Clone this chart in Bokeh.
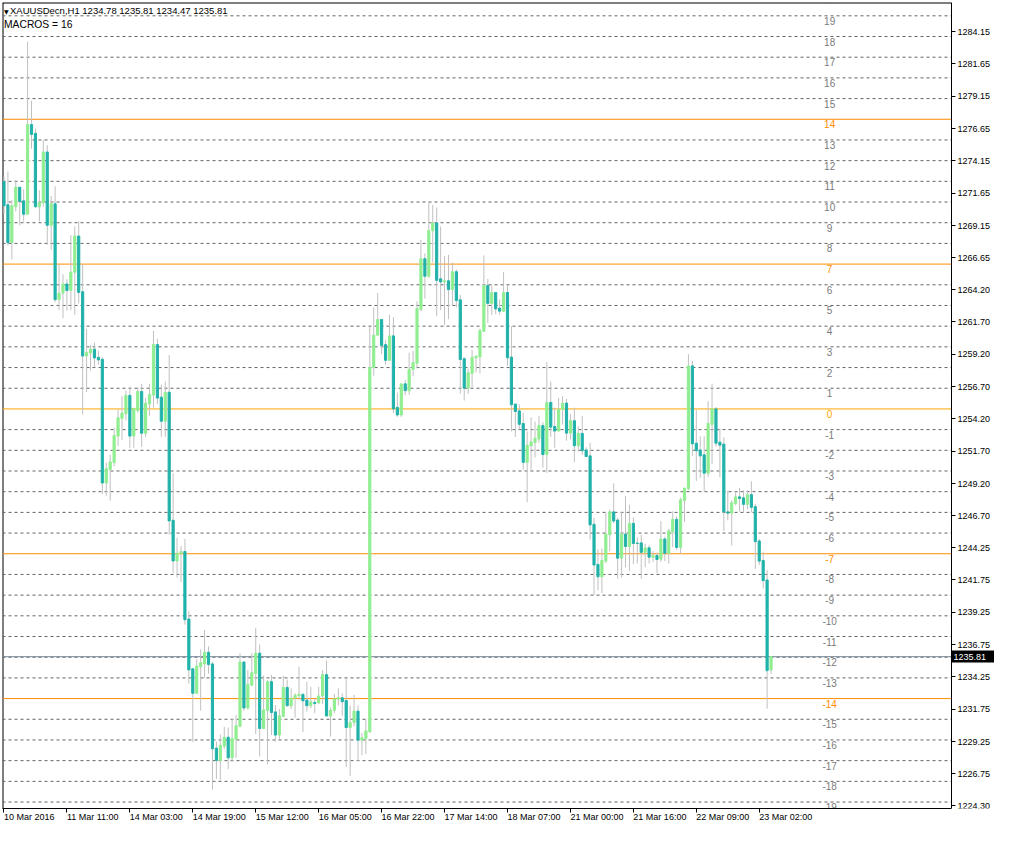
from bokeh.plotting import figure
from bokeh.models import (ColumnDataSource, FixedTicker, PrintfTickFormatter, Label,
                          LinearAxis)
from bokeh.core.properties import value
from bokeh.embed import file_html
from bokeh.resources import INLINE

symbol_title = "XAUUSDecn,H1  1234.78 1235.81 1234.47 1235.81"
indicator_title = "MACROS = 16"

opens = [1272.55, 1270.76, 1267.83, 1270.61, 1272.12, 1271.06, 1270.03, 1276.96, 1276.28, 1270.61,
         1270.91, 1274.84, 1269.17, 1270.83, 1263.42, 1263.93, 1264.63, 1264.13, 1265.54, 1268.34,
         1264.03, 1259.06, 1259.29, 1259.59, 1258.96, 1258.81, 1249.24, 1250.30, 1250.82, 1252.87,
         1254.23, 1254.60, 1256.02, 1252.87, 1254.86, 1256.32, 1253.09, 1255.36, 1256.04, 1259.95,
         1255.88, 1254.02, 1256.26, 1246.36, 1243.21, 1243.81, 1243.94, 1238.72, 1234.87, 1232.98,
         1235.04, 1235.25, 1236.15, 1235.25, 1228.74, 1227.79, 1228.90, 1229.58, 1227.99, 1229.42,
         1230.43, 1235.40, 1231.84, 1233.61, 1234.51, 1236.08, 1230.26, 1231.64, 1233.88, 1231.54,
         1229.75, 1231.19, 1233.43, 1232.02, 1232.60, 1232.78, 1232.90, 1232.45, 1232.02, 1232.27,
         1232.24, 1232.77, 1234.42, 1231.22, 1231.66, 1232.54, 1232.63, 1232.42, 1230.33, 1230.72,
         1231.60, 1229.36, 1229.48, 1230.01, 1258.18, 1260.67, 1261.88, 1259.94, 1258.73, 1260.62,
         1255.09, 1254.50, 1256.91, 1256.38, 1258.03, 1258.50, 1262.67, 1266.58, 1265.23, 1268.76,
         1269.35, 1265.03, 1264.79, 1264.88, 1264.20, 1265.58, 1263.41, 1258.85, 1256.58, 1257.72,
         1258.93, 1259.00, 1260.97, 1264.52, 1263.13, 1263.97, 1262.76, 1262.53, 1263.97, 1258.98,
         1255.35, 1254.82, 1253.84, 1250.84, 1252.12, 1252.37, 1252.65, 1253.68, 1251.44, 1255.47,
         1253.61, 1253.26, 1254.94, 1255.42, 1253.10, 1254.06, 1252.12, 1253.08, 1251.79, 1251.34,
         1246.05, 1242.95, 1241.99, 1243.20, 1245.24, 1247.01, 1246.38, 1243.43, 1245.29, 1244.33,
         1246.12, 1244.59, 1244.61, 1243.88, 1244.23, 1243.50, 1243.63, 1243.35, 1244.91, 1243.81,
         1245.47, 1246.43, 1244.26, 1247.89, 1248.80, 1258.30, 1252.32, 1251.79, 1251.42, 1250.00,
         1253.78, 1254.97, 1252.40, 1252.25, 1247.01, 1246.91, 1247.66, 1248.17, 1248.09, 1247.59,
         1248.34, 1247.41, 1244.76, 1243.25, 1241.74, 1234.78]
highs = [1272.95, 1273.33, 1271.14, 1272.65, 1272.12, 1271.94, 1283.38, 1278.80, 1276.65, 1271.89,
         1275.75, 1275.37, 1271.44, 1272.19, 1266.10, 1265.39, 1265.01, 1268.41, 1269.09, 1269.47,
         1266.15, 1261.16, 1259.90, 1260.10, 1259.49, 1258.96, 1250.82, 1251.43, 1253.50, 1254.93,
         1255.97, 1256.39, 1256.70, 1255.06, 1256.65, 1256.92, 1255.81, 1256.92, 1261.01, 1260.40,
         1256.84, 1257.09, 1259.14, 1249.99, 1245.00, 1244.37, 1244.92, 1239.33, 1234.87, 1235.62,
         1236.38, 1237.89, 1236.61, 1235.42, 1229.25, 1229.80, 1230.38, 1230.33, 1231.01, 1231.31,
         1236.08, 1235.40, 1234.79, 1236.08, 1238.04, 1236.76, 1234.34, 1233.99, 1234.41, 1232.07,
         1231.77, 1234.34, 1234.04, 1233.36, 1232.98, 1235.04, 1232.98, 1233.88, 1233.48, 1232.57,
         1233.48, 1234.77, 1235.51, 1231.89, 1232.92, 1233.36, 1232.98, 1234.10, 1232.04, 1232.86,
         1232.04, 1229.92, 1231.01, 1261.35, 1262.82, 1263.94, 1261.88, 1260.29, 1262.26, 1262.06,
         1256.24, 1256.91, 1257.21, 1259.32, 1259.47, 1263.29, 1268.05, 1267.00, 1270.91, 1270.73,
         1270.55, 1269.08, 1266.79, 1266.88, 1266.29, 1265.76, 1263.79, 1258.98, 1258.09, 1259.53,
         1259.10, 1261.19, 1266.84, 1265.02, 1264.52, 1264.02, 1263.44, 1265.55, 1264.52, 1261.37,
         1255.35, 1255.32, 1254.69, 1253.23, 1254.31, 1253.99, 1254.44, 1253.94, 1258.60, 1257.09,
         1255.07, 1255.83, 1255.95, 1255.75, 1254.57, 1255.07, 1253.61, 1254.44, 1252.00, 1252.35,
         1246.55, 1244.11, 1244.16, 1247.01, 1247.18, 1249.22, 1246.55, 1247.01, 1248.24, 1247.56,
         1246.58, 1245.04, 1245.24, 1244.54, 1244.44, 1243.98, 1243.86, 1246.30, 1245.09, 1245.70,
         1247.06, 1246.68, 1248.11, 1248.85, 1259.20, 1258.67, 1254.89, 1252.85, 1252.85, 1255.57,
         1256.93, 1255.12, 1253.46, 1252.78, 1248.64, 1247.91, 1248.59, 1248.87, 1248.69, 1248.69,
         1249.37, 1247.64, 1244.91, 1243.93, 1242.50, 1235.81]
lows = [1270.05, 1267.61, 1266.52, 1270.25, 1269.17, 1269.47, 1270.03, 1275.09, 1270.51, 1269.47,
        1270.61, 1267.66, 1267.28, 1263.22, 1262.62, 1261.99, 1262.57, 1262.62, 1262.24, 1263.12,
        1254.53, 1256.27, 1257.93, 1258.18, 1258.38, 1248.38, 1248.25, 1247.88, 1250.52, 1252.11,
        1252.56, 1254.08, 1251.96, 1251.96, 1254.68, 1252.03, 1252.79, 1254.45, 1255.06, 1255.36,
        1252.81, 1252.81, 1245.25, 1242.28, 1241.92, 1241.60, 1238.29, 1233.73, 1229.20, 1232.98,
        1231.64, 1234.16, 1234.49, 1225.54, 1226.35, 1226.27, 1228.69, 1227.11, 1227.69, 1227.99,
        1230.36, 1231.64, 1231.72, 1233.53, 1229.83, 1228.09, 1230.21, 1227.48, 1229.75, 1229.25,
        1229.45, 1231.14, 1231.94, 1231.77, 1231.09, 1232.47, 1229.98, 1231.57, 1231.84, 1231.45,
        1232.13, 1232.13, 1231.22, 1229.63, 1231.45, 1232.04, 1231.25, 1227.28, 1226.60, 1230.42,
        1227.72, 1228.19, 1228.28, 1229.92, 1257.53, 1260.67, 1259.23, 1258.38, 1258.65, 1254.65,
        1254.35, 1254.35, 1256.03, 1256.06, 1257.50, 1258.12, 1262.53, 1263.50, 1265.11, 1266.29,
        1262.14, 1262.61, 1261.47, 1261.91, 1262.91, 1262.82, 1256.15, 1255.62, 1256.13, 1256.63,
        1257.79, 1257.72, 1260.97, 1261.62, 1262.25, 1262.30, 1262.25, 1262.48, 1258.30, 1253.23,
        1252.80, 1253.38, 1250.28, 1247.74, 1250.08, 1251.21, 1252.35, 1250.43, 1250.03, 1252.80,
        1251.97, 1253.23, 1253.76, 1252.52, 1252.60, 1250.84, 1251.67, 1251.42, 1251.24, 1244.86,
        1240.58, 1240.93, 1240.73, 1243.05, 1243.96, 1246.12, 1241.84, 1241.92, 1242.72, 1242.42,
        1242.97, 1243.02, 1241.84, 1242.72, 1243.02, 1243.13, 1242.27, 1243.15, 1243.20, 1243.02,
        1244.28, 1244.08, 1243.78, 1246.22, 1248.72, 1251.34, 1249.40, 1249.63, 1248.57, 1249.70,
        1250.71, 1252.05, 1249.70, 1245.54, 1246.35, 1244.41, 1247.51, 1247.03, 1247.01, 1247.21,
        1246.96, 1242.60, 1242.90, 1241.08, 1231.79, 1234.47]
closes = [1270.68, 1267.83, 1270.68, 1272.12, 1271.01, 1270.03, 1276.96, 1276.20, 1270.61, 1270.91,
          1274.84, 1269.17, 1270.83, 1263.42, 1263.93, 1264.63, 1264.13, 1265.54, 1268.34, 1263.98,
          1259.06, 1259.34, 1259.59, 1258.91, 1258.76, 1249.24, 1250.35, 1250.87, 1252.92, 1254.28,
          1254.65, 1256.02, 1252.87, 1255.01, 1256.32, 1253.09, 1255.41, 1256.09, 1259.95, 1255.81,
          1254.02, 1256.26, 1246.31, 1243.21, 1243.81, 1243.94, 1238.67, 1234.79, 1232.98, 1235.09,
          1235.35, 1236.15, 1235.20, 1228.69, 1227.79, 1228.95, 1229.58, 1227.99, 1229.47, 1230.48,
          1235.40, 1231.84, 1233.68, 1234.57, 1236.08, 1230.26, 1231.69, 1233.88, 1231.49, 1229.75,
          1231.24, 1233.43, 1232.02, 1232.60, 1232.83, 1232.90, 1232.40, 1232.02, 1232.32, 1232.19,
          1232.77, 1234.42, 1231.22, 1231.66, 1232.54, 1232.63, 1232.33, 1230.33, 1230.72, 1231.60,
          1229.36, 1229.54, 1230.07, 1258.18, 1260.67, 1261.88, 1259.88, 1258.73, 1260.62, 1254.97,
          1254.50, 1256.91, 1256.38, 1258.03, 1258.56, 1262.73, 1266.58, 1265.23, 1268.76, 1269.35,
          1264.91, 1264.79, 1264.88, 1264.20, 1265.58, 1263.35, 1258.79, 1256.58, 1257.77, 1258.95,
          1259.05, 1261.02, 1264.52, 1263.13, 1263.97, 1262.71, 1262.53, 1263.97, 1258.93, 1255.30,
          1254.77, 1253.78, 1250.84, 1252.17, 1252.42, 1252.70, 1253.68, 1251.44, 1255.47, 1253.56,
          1253.26, 1254.94, 1255.42, 1253.10, 1254.06, 1252.12, 1253.08, 1251.74, 1251.29, 1246.00,
          1242.90, 1241.99, 1243.25, 1245.29, 1247.01, 1246.30, 1243.43, 1245.29, 1244.33, 1246.12,
          1244.56, 1244.56, 1243.88, 1244.23, 1243.50, 1243.63, 1243.33, 1244.91, 1243.81, 1245.54,
          1246.43, 1244.26, 1247.94, 1248.85, 1258.30, 1252.27, 1251.74, 1251.34, 1250.00, 1253.84,
          1254.97, 1252.32, 1252.17, 1247.01, 1246.91, 1247.71, 1248.17, 1248.04, 1247.59, 1248.34,
          1247.36, 1244.71, 1243.20, 1241.69, 1234.73, 1235.81]

time_tick_bars = [0, 16, 32, 48, 64, 80, 96, 112, 128, 144, 160, 176, 192]
time_tick_labels = ["10 Mar 2016", "11 Mar 11:00", "14 Mar 03:00", "14 Mar 19:00", "15 Mar 12:00",
                    "16 Mar 05:00", "16 Mar 22:00", "17 Mar 14:00", "18 Mar 07:00", "21 Mar 00:00",
                    "21 Mar 16:00", "22 Mar 09:00", "23 Mar 02:00"]
price_ticks = [1284.15, 1281.65, 1279.15, 1276.65, 1274.15, 1271.65, 1269.15, 1266.65, 1264.20,
               1261.70, 1259.20, 1256.70, 1254.20, 1251.70, 1249.20, 1246.70, 1244.25, 1241.75,
               1239.25, 1236.75, 1234.25, 1231.75, 1229.25, 1226.75, 1224.30]
level_numbers = list(range(-19, 21))
level_prices = [1224.57, 1226.17, 1227.77, 1229.37, 1230.97, 1232.57, 1234.17, 1235.77, 1237.37,
                1238.97, 1240.57, 1242.17, 1243.77, 1245.37, 1246.97, 1248.57, 1250.17, 1251.77,
                1253.37, 1254.97, 1256.57, 1258.17, 1259.77, 1261.37, 1262.97, 1264.57, 1266.17,
                1267.77, 1269.37, 1270.97, 1272.57, 1274.17, 1275.77, 1277.37, 1278.97, 1280.57,
                1282.17, 1283.77, 1285.37, 1286.97]
key_levels = [-14, -7, 0, 7, 14]
bid_price = 1235.81

# ---- styling / layout ----
BULL = "#90EE90"
BEAR = "#20B2AA"
WICK = "#C0C0C0"
DASH = "#646464"
ORANGE = "#FF8C00"
ORANGE0 = "#FFA500"
LABEL_GRAY = "#7A7A7A"
FONT = "Liberation Sans"

FRAME_W = 992          # drawing area incl. the price-scale strip
FRAME_H = 806
SCALE_W = 43           # width of the price-scale strip on the right

x_start, chart_right = -0.375, 240.875
y_start, y_end = 1224.07, 1286.40
x_end = x_start + (chart_right - x_start) * FRAME_W / (FRAME_W - SCALE_W)

p = figure(frame_width=FRAME_W, frame_height=FRAME_H,
           x_range=(x_start, x_end), y_range=(y_start, y_end),
           y_axis_location="right", output_backend="svg", toolbar_location=None, tools="",
           min_border_left=2, min_border_top=2, min_border_right=0, min_border_bottom=0)
p.background_fill_color = "white"
p.border_fill_color = "white"
p.outline_line_color = None
p.grid.visible = False

# chart border (left / top); right and bottom come from the axes
p.segment(x0=[x_start, x_start], y0=[y_start, y_end], x1=[x_start, chart_right],
          y1=[y_end, y_end], line_color="black", line_width=2)

# level lines
dash_lv = [lv for k, lv in zip(level_numbers, level_prices) if k not in key_levels]
key_lv = [lv for k, lv in zip(level_numbers, level_prices) if k in key_levels]
key_col = [ORANGE0 if k == 0 else ORANGE for k in level_numbers if k in key_levels]
p.segment(x0=x_start, x1=chart_right, y0=dash_lv, y1=dash_lv, line_color=DASH,
          line_width=1, line_dash="3 3")
p.segment(x0=x_start, x1=chart_right, y0=key_lv, y1=key_lv, line_color=key_col, line_width=1)
p.segment(x0=x_start, x1=chart_right, y0=bid_price, y1=bid_price, line_color="#778899",
          line_width=1)

lab_colors = [(ORANGE0 if k == 0 else ORANGE) if k in key_levels else LABEL_GRAY
              for k in level_numbers]
lsrc = ColumnDataSource(dict(x=[209.9] * len(level_prices), y=level_prices,
                             t=[str(k) for k in level_numbers], c=lab_colors))
p.text(x="x", y="y", text="t", text_color="c", source=lsrc, text_align="center",
       text_baseline="top", y_offset=1, text_font=value(FONT), text_font_size="10px")

# candles
bars = list(range(len(opens)))
src = ColumnDataSource(dict(
    x=bars, o=opens, h=highs, l=lows, c=closes,
    top=[max(a, b) for a, b in zip(opens, closes)],
    bottom=[min(a, b) for a, b in zip(opens, closes)],
    col=[BULL if c >= o else BEAR for o, c in zip(opens, closes)],
))
p.segment(x0="x", y0="h", x1="x", y1="l", line_color=WICK, line_width=1, source=src)
p.vbar(x="x", width=0.55, top="top", bottom="bottom", fill_color="col", line_color="col",
       line_width=1, source=src)

# time axis (labels start at their tick, as in the terminal)
xa = p.xaxis[0]
xa.ticker = FixedTicker(ticks=time_tick_bars)
xa.bounds = (x_start, chart_right)
xa.major_label_overrides = {b: t for b, t in zip(time_tick_bars, time_tick_labels)}
xa.major_label_orientation = -0.0001
xa.major_label_text_font = FONT
xa.major_label_text_font_size = "9px"
xa.major_label_text_color = "black"
xa.major_label_standoff = 4
xa.axis_line_color = "black"
xa.major_tick_line_color = "black"
xa.major_tick_in = 0
xa.major_tick_out = 4
xa.minor_tick_line_color = None

# price axis, drawn at the chart's right border
ya = p.yaxis[0]
ya.fixed_location = chart_right
ya.ticker = FixedTicker(ticks=price_ticks)
ya.formatter = PrintfTickFormatter(format="%.2f")
ya.major_label_text_font = FONT
ya.major_label_text_font_size = "9px"
ya.major_label_text_color = "black"
ya.major_label_standoff = 2
ya.axis_line_color = "black"
ya.major_tick_line_color = "black"
ya.major_tick_in = 0
ya.major_tick_out = 4
ya.minor_tick_line_color = None

# current bid marker on the price scale (black box with white price)
bid_axis = LinearAxis(ticker=FixedTicker(ticks=[bid_price]),
                      formatter=PrintfTickFormatter(format="%.2f"),
                      fixed_location=chart_right, axis_line_color=None,
                      major_tick_in=0, major_tick_out=SCALE_W, major_tick_line_width=12,
                      major_tick_line_color="black", major_label_standoff=2 - SCALE_W,
                      major_label_text_color="white", major_label_text_font=FONT,
                      major_label_text_font_size="9px", minor_tick_line_color=None)
p.add_layout(bid_axis, "right")

# titles
p.add_layout(Label(x=x_start, y=y_end, x_offset=1.5, y_offset=-9, text="\u25BC",
                   text_font="DejaVu Sans", text_font_size="6px", text_color="black",
                   text_baseline="middle", text_align="left"))
p.add_layout(Label(x=x_start, y=y_end, x_offset=7.5, y_offset=-8, text=symbol_title,
                   text_font=FONT, text_font_size="9.5px", text_color="black",
                   text_baseline="middle", text_align="left"))
p.add_layout(Label(x=x_start, y=y_end, x_offset=1.5, y_offset=-22, text=indicator_title,
                   text_font=FONT, text_font_size="10.3px", text_color="black",
                   text_baseline="middle", text_align="left"))

open("out.html", "w").write(file_html(p, INLINE, title="XAUUSDecn,H1"))
